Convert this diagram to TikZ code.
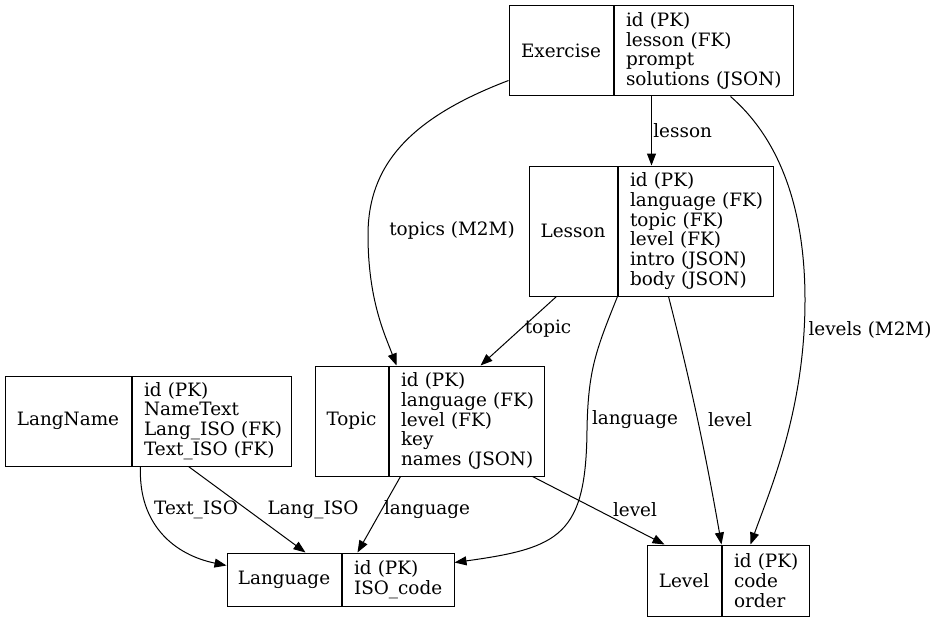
\documentclass[tikz,border=0pt]{standalone}
\usepackage{fontspec}
\setmainfont{DejaVu Serif}
\usepackage{tikz}
\usetikzlibrary{arrows.meta}

\begin{document}
\begin{tikzpicture}[x=1pt, y=-1pt, line width=1pt,
  every node/.style={font=\fontsize{18.4}{19.7}\selectfont},
  tname/.style={draw, inner sep=0pt, align=center},
  tfields/.style={draw, inner xsep=12pt, inner ysep=0pt, align=left, anchor=west},
  fk/.style={-{Triangle[length=12pt,width=9pt]}}]
\useasboundingbox (0,0) rectangle (939,623);
% Tables
\node[tname, minimum width=104pt, minimum height=90pt] (exn) at (561,51) {Exercise};
\node[tfields, text width=155pt, minimum height=90pt] (exf) at (exn.east) {id~(PK)\\lesson~(FK)\\prompt\\solutions~(JSON)};
\node[tname, minimum width=88pt, minimum height=130pt] (lsn) at (573,231) {Lesson};
\node[tfields, text width=131pt, minimum height=130pt] (lsf) at (lsn.east) {id~(PK)\\language~(FK)\\topic~(FK)\\level~(FK)\\intro~(JSON)\\body~(JSON)};
\node[tname, minimum width=73pt, minimum height=110pt] (tpn) at (351.5,421) {Topic};
\node[tfields, text width=131pt, minimum height=110pt] (tpf) at (tpn.east) {id~(PK)\\language~(FK)\\level~(FK)\\key\\names~(JSON)};
\node[tname, minimum width=126pt, minimum height=90pt] (lnn) at (68,421) {LangName};
\node[tfields, text width=135pt, minimum height=90pt] (lnf) at (lnn.east) {id~(PK)\\NameText\\Lang\_ISO~(FK)\\Text\_ISO~(FK)};
\node[tname, minimum width=114pt, minimum height=53pt] (lgn) at (284,579.5) {Language};
\node[tfields, text width=88pt, minimum height=53pt] (lgf) at (lgn.east) {id~(PK)\\ISO\_code};
\node[tname, minimum width=74pt, minimum height=71pt] (lvn) at (684,580.5) {Level};
\node[tfields, text width=63pt, minimum height=71pt] (lvf) at (lvn.east) {id~(PK)\\code\\order};

% Relations
\draw[fk] ([xshift=38pt]exf.south west) -- node[right, xshift=-2pt] {lesson} ([xshift=34pt]lsf.north west);
\draw[fk] ([yshift=16pt]exn.south west) .. controls (410,118) and (368,165) .. (368,235)
  .. controls (368,300) and (385,335) .. ([xshift=8pt]tpf.north west);
\node at (452,230) (lbtopics) {topics (M2M)};
\draw[fk] ([xshift=117pt]exf.south west) .. controls (775,135) and (805,200) .. (805,300)
  .. controls (805,410) and (770,490) .. ([xshift=29pt]lvf.north west);
\node at (870,330) (lblevels) {levels (M2M)};
\draw[fk] ([xshift=28pt]lsn.south west) -- ([xshift=92pt]tpf.north west);
\node at (548,329) (lbtopic) {topic};
\draw[fk] (lsf.south west) .. controls (596,350) and (588,370) .. (587,430)
  .. controls (586,535) and (560,548) .. ([yshift=-10pt]lgf.north east);
\node at (635,420) (lblanguage) {language};
\draw[fk] ([xshift=51pt]lsf.south west) .. controls (690,380) and (705,450) .. (lvn.north east);
\node at (730,420) (lblevel) {level};
\draw[fk] ([xshift=12pt]tpf.south west) -- ([xshift=16pt]lgf.north west);
\node at (427,510) (lbtplang) {language};
\draw[fk] ([xshift=144pt]tpf.south west) -- ([xshift=18pt]lvn.north west);
\node at (635,510) (lbtplevel) {level};
\draw[fk] ([xshift=57pt]lnf.south west) -- ([xshift=79pt]lgn.north west);
\node at (313,510) (lblang) {Lang\_ISO};
\draw[fk] ([xshift=9pt]lnf.south west) .. controls (138,525) and (175,555) .. ([yshift=-13pt]lgn.north west);
\node at (196,510) (lbtext) {Text\_ISO};
\end{tikzpicture}
\end{document}
